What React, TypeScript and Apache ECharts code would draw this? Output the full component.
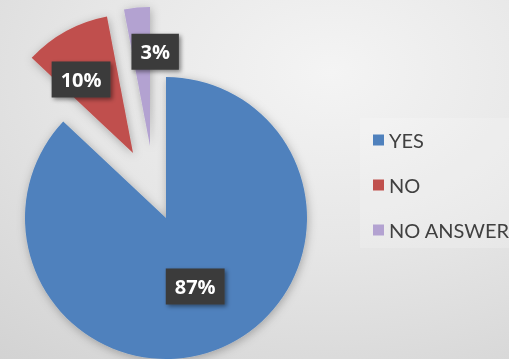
import React, { useEffect, useRef } from "react";
import * as echarts from "echarts";

const categories = ["YES", "NO", "NO ANSWER"];
const values = [87, 10, 3];
const colors = ["#4f81bd", "#c0504d", "#b3a2d1"];
// each slice is drawn by its own pie layer so it can be pulled out (exploded) independently
const sliceCenters: [number, number][] = [
  [166, 218],
  [133, 153],
  [150, 146],
];
const sliceRadius = [141, 139, 139];
const labelShift: [number, number][] = [
  [0, 1],
  [-17, -10],
  [12, -22],
];

export default function App() {
  const ref = useRef<HTMLDivElement>(null);
  useEffect(() => {
    if (!ref.current) return;
    const chart = echarts.init(ref.current, undefined, { renderer: "svg" });
    const series = categories.map((_, i) => ({
      type: "pie",
      center: sliceCenters[i],
      radius: sliceRadius[i],
      startAngle: 90,
      clockwise: true,
      avoidLabelOverlap: false,
      silent: true,
      z: 2,
      label: {
        position: "inside",
        formatter: "{c}%",
        color: "#ffffff",
        fontFamily: "Open Sans",
        fontWeight: "bold",
        fontSize: 20,
        backgroundColor: "#3b3b3b",
        padding: [8, 9, 8, 9],
        shadowColor: "rgba(0,0,0,0.45)",
        shadowBlur: 4,
        shadowOffsetX: 2,
        shadowOffsetY: 2,
      },
      labelLine: { show: false },
      labelLayout: { dx: labelShift[i][0], dy: labelShift[i][1] },
      data: categories.map((name, j) => ({
        name,
        value: values[j],
        itemStyle:
          j === i
            ? {
                color: colors[i],
                shadowColor: "rgba(0,0,0,0.28)",
                shadowBlur: 10,
                shadowOffsetX: 1,
                shadowOffsetY: 2,
              }
            : { color: "rgba(0,0,0,0)", borderWidth: 0 },
        label: { show: j === i },
      })),
    }));
    chart.setOption({
      animation: false,
      graphic: [
        {
          type: "rect",
          z: -10,
          shape: { x: 0, y: 0, width: 509, height: 359 },
          style: {
            fill: {
              type: "radial",
              x: 0.65,
              y: 0.2,
              r: 1.1,
              colorStops: [
                { offset: 0, color: "#f4f4f4" },
                { offset: 0.45, color: "#e6e6e6" },
                { offset: 1, color: "#d0d0d0" },
              ],
            },
          },
        },
      ],
      legend: {
        orient: "vertical",
        left: 360,
        top: 118,
        icon: "rect",
        itemWidth: 11,
        itemHeight: 11,
        itemGap: 25,
        padding: [12, 0, 8, 13],
        backgroundColor: "rgba(255,255,255,0.18)",
        textStyle: { color: "#404040", fontSize: 20, fontFamily: "Lato" },
        selectedMode: false,
        data: categories.map((name, i) => ({ name, itemStyle: { color: colors[i] } })),
      },
      series,
    });
    return () => chart.dispose();
  }, []);
  return (
    <div
      ref={ref}
      style={{ position: "fixed", left: 0, top: 0, width: 509, height: 359 }}
    />
  );
}
